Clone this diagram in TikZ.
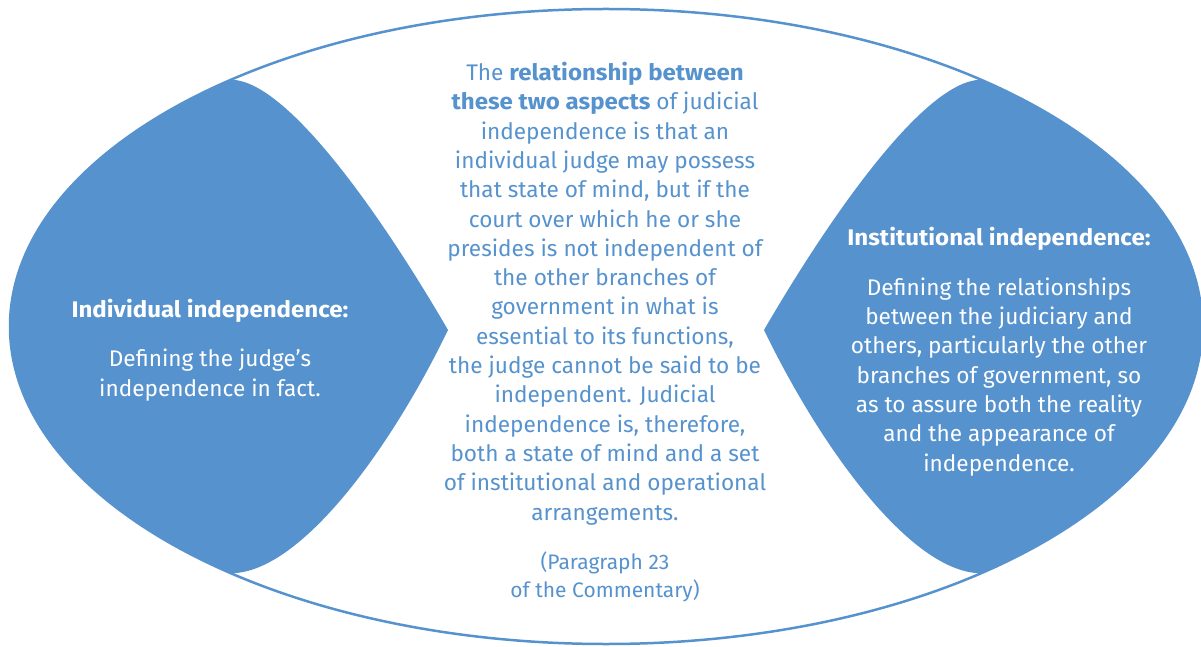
\documentclass[tikz,border=0pt]{standalone}
\usepackage{fontspec}
\setmainfont{Fira Sans}[BoldFeatures={FakeStretch=1.065}]
\definecolor{jblue}{RGB}{86,146,205}
\newcommand{\apos}{{\char"0027}}
\begin{document}
\begin{tikzpicture}[x=1pt,y=1pt,
  lens/.style={fill=jblue},
  bodytext/.style={inner sep=0pt,align=center,anchor=base,
    font=\fontsize{22.6}{29.3}\selectfont},
  headtext/.style={inner sep=0pt,align=center,anchor=base,text=white,
    font=\fontsize{22.6}{29.3}\selectfont\bfseries}]
\useasboundingbox (0,0) rectangle (1201,646);
\coordinate (c) at (606,319.5);
\draw[jblue,line width=2.5pt] (c) ellipse [x radius=596, y radius=317.5];
% left shape
\fill[lens] (c) ++(129:596 and 317.5) coordinate (lt)
  arc[start angle=129,end angle=231,x radius=596,y radius=317.5] coordinate (lb)
  .. controls (300,73) and (390,196) .. (448,316) coordinate (lp)
  .. controls (390,416) and (290,566) .. (lt) -- cycle;
% right shape
\fill[lens] (c) ++(51:596 and 317.5) coordinate (rt)
  arc[start angle=51,end angle=-51,x radius=596,y radius=317.5] coordinate (rb)
  .. controls (912,73) and (822,196) .. (764,316) coordinate (rp)
  .. controls (822,416) and (922,566) .. (rt) -- cycle;
% texts (anchor base = baseline of the last line)
\node[bodytext,text=jblue] (mid) at (605,126) {The \textbf{relationship between}\\
\textbf{these two aspects} of judicial\\
independence is that an\\
individual judge may possess\\
that state of mind, but if the\\
court over which he or she\\
presides is not independent of\\
the other branches of\\
government in what is\\
essential to its functions,\\
the judge cannot be said to be\\
independent. Judicial\\
independence is, therefore,\\
both a state of mind and a set\\
of institutional and operational\\
arrangements.};
\node[bodytext,text=jblue,font=\fontsize{21}{28}\selectfont] (ref) at (605,49) {(Paragraph 23\\ of the Commentary)};
\node[headtext] (lhead) at (210,328) {Individual independence:};
\node[bodytext,text=white] (lbody) at (210,250) {Defining the judge\apos s\\ independence in fact.};
\node[headtext] (rhead) at (999,400) {Institutional independence:};
\node[bodytext,text=white] (rbody) at (999,175) {Defining the relationships\\
between the judiciary and\\
others, particularly the other\\
branches of government, so\\
as to assure both the reality\\
and the appearance of\\
independence.};
\end{tikzpicture}
\end{document}
